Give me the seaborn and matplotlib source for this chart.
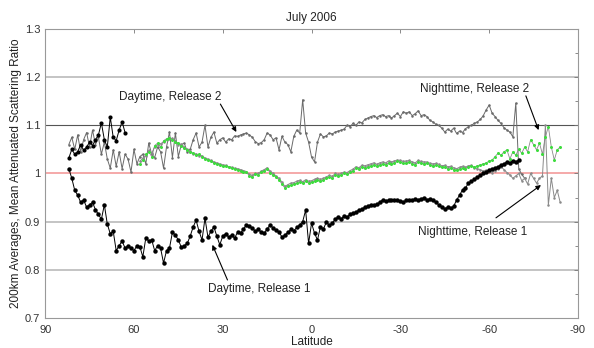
import numpy as np
import matplotlib
matplotlib.use("Agg")
import matplotlib.pyplot as plt
import seaborn as sns

# latitude bin centres (1 degree bins)
lat_day_r1 = np.arange(82, -71, -1)
lat_day_r2 = np.arange(82, -73, -1)
lat_night = np.arange(58, -85, -1)
lat_day_r1_polar = np.arange(82, 62, -1)

day_r1 = [
    1.01, 0.99, 0.965, 0.955, 0.94, 0.945, 0.93, 0.935, 0.94, 0.925,
    0.915, 0.905, 0.935, 0.895, 0.875, 0.88, 0.84, 0.85, 0.86, 0.845,
    0.85, 0.845, 0.84, 0.85, 0.848, 0.827, 0.866, 0.86, 0.862, 0.84,
    0.85, 0.845, 0.814, 0.84, 0.845, 0.878, 0.872, 0.862, 0.847, 0.85,
    0.855, 0.87, 0.889, 0.903, 0.88, 0.862, 0.907, 0.868, 0.88, 0.889,
    0.87, 0.852, 0.87, 0.875, 0.868, 0.872, 0.866, 0.878, 0.876, 0.885,
    0.893, 0.89, 0.887, 0.88, 0.884, 0.878, 0.876, 0.885, 0.893, 0.887,
    0.882, 0.879, 0.868, 0.872, 0.878, 0.884, 0.881, 0.888, 0.893, 0.9,
    0.924, 0.855, 0.897, 0.876, 0.862, 0.889, 0.885, 0.899, 0.893, 0.897,
    0.905, 0.91, 0.906, 0.912, 0.91, 0.915, 0.918, 0.92, 0.924, 0.926,
    0.93, 0.932, 0.935, 0.934, 0.936, 0.94, 0.945, 0.943, 0.944, 0.946,
    0.944, 0.945, 0.943, 0.941, 0.944, 0.946, 0.945, 0.947, 0.945, 0.948,
    0.949, 0.946, 0.947, 0.944, 0.94, 0.935, 0.931, 0.927, 0.93, 0.928,
    0.932, 0.945, 0.955, 0.966, 0.97, 0.98, 0.984, 0.988, 0.993, 0.996,
    1.0, 1.004, 1.007, 1.01, 1.011, 1.014, 1.018, 1.02, 1.024, 1.022,
    1.026, 1.024, 1.028,
]

day_r1_polar = [
    1.032, 1.05, 1.04, 1.045, 1.06, 1.048, 1.055, 1.065, 1.058, 1.07,
    1.08, 1.105, 1.07, 1.055, 1.117, 1.075, 1.068, 1.09, 1.107, 1.085,
]

day_r2 = [
    1.06, 1.075, 1.05, 1.08, 1.045, 1.07, 1.085, 1.055, 1.09, 1.06,
    1.075, 1.04, 1.065, 1.03, 1.011, 1.049, 1.015, 1.045, 1.01, 1.04,
    1.03, 1.003, 1.05, 1.02, 1.035, 1.04, 1.02, 1.063, 1.04, 1.033,
    1.055, 1.045, 1.011, 1.055, 1.086, 1.033, 1.084, 1.035, 1.06, 1.063,
    1.045, 1.05, 1.07, 1.084, 1.055, 1.065, 1.1, 1.055, 1.075, 1.086,
    1.063, 1.07, 1.074, 1.065, 1.072, 1.07, 1.078, 1.077, 1.08, 1.082,
    1.084, 1.08, 1.075, 1.066, 1.062, 1.064, 1.07, 1.084, 1.08, 1.07,
    1.074, 1.049, 1.077, 1.065, 1.06, 1.045, 1.077, 1.09, 1.084, 1.153,
    1.084, 1.065, 1.034, 1.024, 1.065, 1.082, 1.076, 1.078, 1.084, 1.082,
    1.086, 1.088, 1.09, 1.092, 1.1, 1.097, 1.104, 1.1, 1.107, 1.105,
    1.112, 1.115, 1.118, 1.12, 1.116, 1.12, 1.122, 1.118, 1.12, 1.115,
    1.12, 1.125, 1.118, 1.128, 1.125, 1.128, 1.12, 1.124, 1.13, 1.12,
    1.122, 1.118, 1.11, 1.107, 1.102, 1.1, 1.094, 1.086, 1.092, 1.088,
    1.094, 1.083, 1.088, 1.085, 1.093, 1.097, 1.1, 1.104, 1.107, 1.112,
    1.12, 1.132, 1.142, 1.125, 1.118, 1.11, 1.104, 1.095, 1.09, 1.086,
    1.076, 1.146, 1.01, 0.998, 0.99,
]

night_r2 = [
    1.02, 1.028, 1.04, 1.045, 1.035, 1.058, 1.063, 1.055, 1.068, 1.072,
    1.074, 1.07, 1.066, 1.063, 1.058, 1.052, 1.048, 1.045, 1.042, 1.038,
    1.04, 1.035, 1.03, 1.028, 1.025, 1.022, 1.02, 1.018, 1.016, 1.015,
    1.013, 1.011, 1.01, 1.008, 1.006, 1.004, 1.003, 0.995, 0.993, 0.998,
    0.997, 1.003, 1.006, 1.01, 1.002, 0.997, 0.992, 0.987, 0.978, 0.97,
    0.974, 0.976, 0.978, 0.98, 0.983, 0.98, 0.984, 0.98, 0.982, 0.985,
    0.987, 0.984, 0.987, 0.99, 0.993, 0.99, 0.997, 0.995, 0.997, 1.0,
    0.998, 1.003, 1.006, 1.011, 1.009, 1.014, 1.012, 1.014, 1.016, 1.018,
    1.015, 1.018, 1.02, 1.018, 1.022, 1.02, 1.022, 1.025, 1.024, 1.021,
    1.022, 1.024, 1.02, 1.018, 1.024, 1.022, 1.02, 1.021, 1.018, 1.016,
    1.018, 1.015, 1.013, 1.014, 1.01, 1.012, 1.008, 1.007, 1.01, 1.012,
    1.01, 1.014, 1.015, 1.013, 1.016, 1.018, 1.02, 1.022, 1.026, 1.028,
    1.035, 1.042, 1.038, 1.045, 1.049, 1.03, 1.045, 1.038, 1.05, 1.042,
    1.055, 1.045, 1.07, 1.06, 1.049, 1.063, 1.04, 1.076, 1.097, 1.055,
    1.028, 1.049, 1.055,
]

night_r1 = [
    1.025, 1.032, 1.036, 1.048, 1.042, 1.055, 1.06, 1.062, 1.065, 1.07,
    1.071, 1.073, 1.068, 1.06, 1.061, 1.055, 1.05, 1.047, 1.04, 1.041,
    1.036, 1.037, 1.032, 1.03, 1.027, 1.024, 1.022, 1.02, 1.018, 1.017,
    1.014, 1.013, 1.011, 1.01, 1.008, 1.006, 1.004, 0.998, 0.996, 1.0,
    1.0, 1.005, 1.008, 1.012, 1.005, 1.0, 0.995, 0.99, 0.982, 0.973,
    0.977, 0.98, 0.981, 0.984, 0.986, 0.983, 0.987, 0.984, 0.985, 0.988,
    0.99, 0.988, 0.99, 0.993, 0.996, 0.994, 1.0, 0.998, 1.0, 1.003,
    1.002, 1.006, 1.009, 1.014, 1.012, 1.017, 1.016, 1.018, 1.02, 1.022,
    1.019, 1.022, 1.024, 1.022, 1.026, 1.024, 1.026, 1.028, 1.027, 1.025,
    1.026, 1.027, 1.024, 1.022, 1.027, 1.025, 1.024, 1.024, 1.021, 1.02,
    1.021, 1.019, 1.016, 1.017, 1.014, 1.015, 1.012, 1.01, 1.013, 1.015,
    1.013, 1.016, 1.017, 1.012, 1.01, 1.008, 1.005, 1.007, 1.004, 1.002,
    1.006, 1.01, 1.014, 1.008, 1.002, 0.997, 0.99, 0.995, 1.0, 0.985,
    0.99, 0.978, 1.0, 0.99, 0.98, 0.99, 0.995, 1.1, 0.935, 0.99,
    0.95, 0.965, 0.94,
]

y_ticks = [0.7, 0.8, 0.9, 1.0, 1.1, 1.2, 1.3]
y_tick_labels = ["0.7", "0.8", "0.9", "1", "1.1", "1.2", "1.3"]
x_ticks = [90, 60, 30, 0, -30, -60, -90]
x_tick_labels = ["90", "60", "30", "0", "-30", "-60", "-90"]


def main() -> None:
    sns.set_style("white")
    plt.rcParams["font.family"] = ["Liberation Sans", "DejaVu Sans"]
    plt.rcParams["axes.unicode_minus"] = False

    fig = plt.figure(figsize=(5.94, 3.48), dpi=100)
    ax = fig.add_axes([0.076, 0.086, 0.897, 0.831])

    # grid lines and reference line at 1
    for yv in y_ticks[1:-1]:
        if yv == 1.0:
            continue
        c = "#555555" if yv == 1.1 else "#b4b4b4"
        w = 0.8 if yv == 1.1 else 1.1
        ax.axhline(yv, color=c, linewidth=w, zorder=0)
    ax.axhline(1.0, color="#f4a3a3", linewidth=1.3, zorder=0)

    sns.lineplot(x=lat_day_r2, y=day_r2, ax=ax, color="#6a6a6a", linewidth=0.7,
                 marker="o", markersize=1.8, markeredgewidth=0, estimator=None)
    sns.lineplot(x=lat_night, y=night_r1, ax=ax, color="#8a8a8a", linewidth=0.7,
                 marker="o", markersize=1.8, markeredgewidth=0, estimator=None)
    sns.lineplot(x=lat_night, y=night_r2, ax=ax, color="#8a8a8a", linewidth=0.6,
                 marker="o", markersize=2.2, markerfacecolor="#3cdc3c",
                 markeredgecolor="#3cdc3c", markeredgewidth=0, estimator=None)
    sns.lineplot(x=lat_day_r1_polar, y=day_r1_polar, ax=ax, color="black", linewidth=0.7,
                 marker="o", markersize=3, markeredgewidth=0, estimator=None)
    sns.lineplot(x=lat_day_r1, y=day_r1, ax=ax, color="black", linewidth=0.7,
                 marker="o", markersize=3.2, markeredgewidth=0, estimator=None)

    ax.set_xlim(90, -90)
    ax.set_ylim(0.7, 1.3)
    ax.set_xticks(x_ticks)
    ax.set_xticklabels(x_tick_labels)
    ax.set_yticks(y_ticks)
    ax.set_yticklabels(y_tick_labels)
    ax.set_yticks(np.arange(0.75, 1.3, 0.1), minor=True)
    ax.tick_params(axis="both", which="both", direction="in", colors="#777777",
                   labelcolor="#333333", labelsize=8, top=True, right=True,
                   length=3, width=0.6)
    ax.tick_params(axis="both", which="minor", length=2)
    ax.tick_params(axis="x", pad=5)
    for sp in ax.spines.values():
        sp.set_color("#999999")
        sp.set_linewidth(0.8)

    ax.set_xlabel("Latitude", fontsize=8.5, color="#222222", labelpad=1)
    ax.set_ylabel("200km Averages, Mean Attenuated Scattering Ratio", fontsize=8.5,
                  color="#222222", labelpad=2)
    ax.set_title("July 2006", fontsize=8.5, color="#222222", pad=6)

    arrow = dict(arrowstyle="-|>", color="black", lw=0.8, mutation_scale=7, shrinkA=0, shrinkB=0)
    ax.annotate("Daytime, Release 2", xy=(25.4, 1.086), xytext=(65.2, 1.159),
                fontsize=8.5, color="#222222", va="center", ha="left")
    ax.annotate("", xy=(25.4, 1.086), xytext=(30.8, 1.144), arrowprops=arrow)
    ax.annotate("Nighttime, Release 2", xy=(-76.7, 1.09), xytext=(-36.5, 1.175),
                fontsize=8.5, color="#222222", va="center", ha="left")
    ax.annotate("", xy=(-76.7, 1.09), xytext=(-72.4, 1.161), arrowprops=arrow)
    ax.annotate("Nighttime, Release 1", xy=(-77.5, 0.976), xytext=(-35.8, 0.879),
                fontsize=8.5, color="#222222", va="center", ha="left")
    ax.annotate("", xy=(-77.5, 0.976), xytext=(-62.3, 0.908), arrowprops=arrow)
    ax.annotate("Daytime, Release 1", xy=(33.5, 0.852), xytext=(34.9, 0.76),
                fontsize=8.5, color="#222222", va="center", ha="left")
    ax.annotate("", xy=(33.5, 0.852), xytext=(28.4, 0.779), arrowprops=arrow)

    fig.savefig("out.png", dpi=100)
    plt.close(fig)


if __name__ == "__main__":
    main()
